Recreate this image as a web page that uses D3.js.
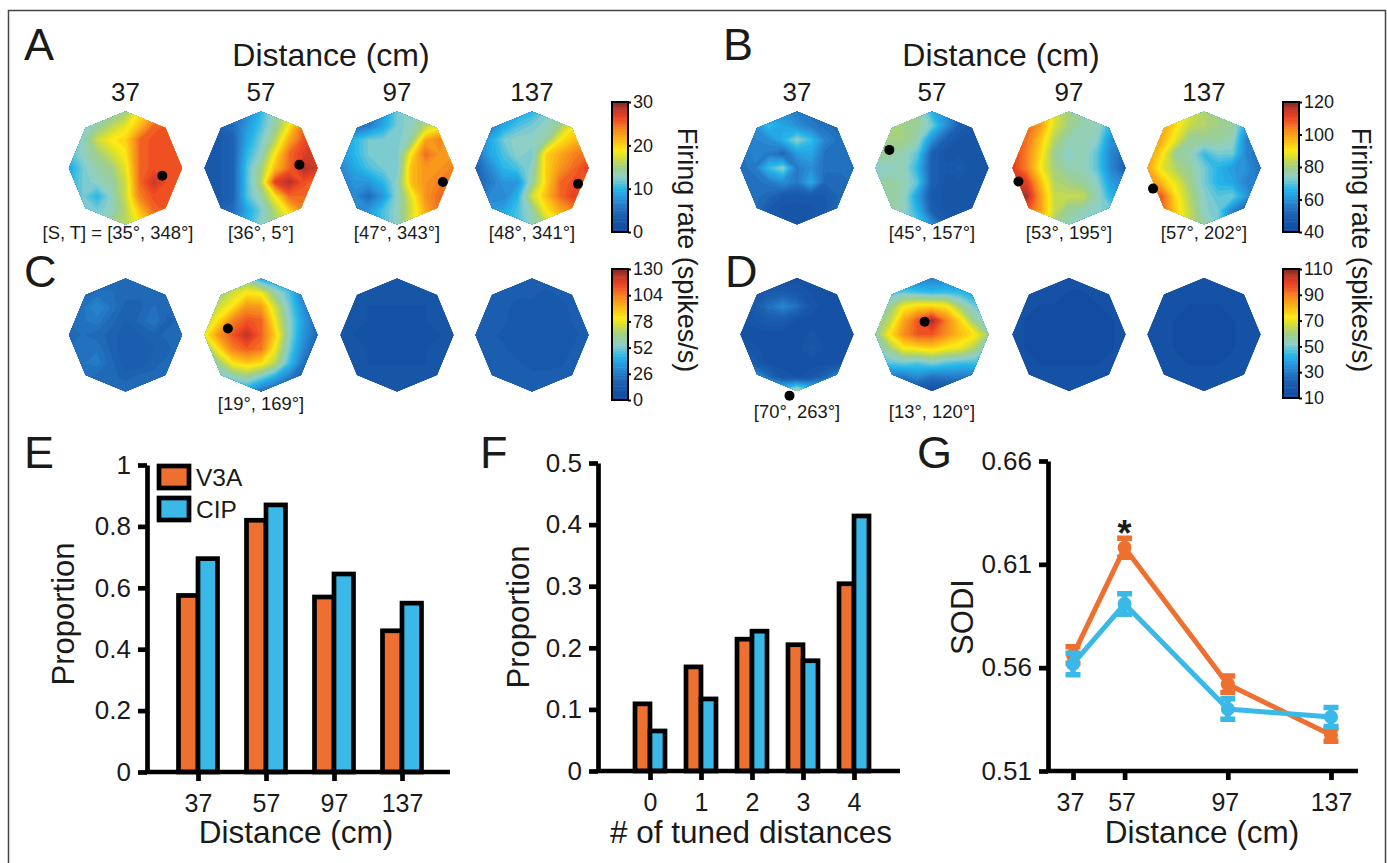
<!DOCTYPE html>
<html>
<head>
<meta charset="utf-8">
<script src="https://cdn.jsdelivr.net/npm/d3@7"></script>
<style>
  html, body { margin: 0; padding: 0; background: #fff; }
  svg { display: block; }
  text { font-family: "Liberation Sans", Arial, sans-serif; fill: #1a1a1a; }
  .axis path, .axis line { stroke: #000; }
</style>
</head>
<body>
<svg id="chart" width="1387" height="863"></svg>
<script>
// tuning maps, firing rate on a 9x9 grid, rows top to bottom
const mapA37 = [
  [13,13,13,14,15,19,22,25,26],[13,13,14,16,18,21,25,26,26],[12,13,17,19,20,25,26,26,26],
  [11,13,15,17,19,25,26,26,26],[9,12,14,15,18,25,26,26,26],[10,12,13,14,17,25,28,26,26],
  [10,12,10,13,17,24,26,26,26],[11,12,12,13,16,21,25,26,25],[12,13,14,15,16,19,22,25,25]];
const mapA57 = [
  [4,4,5,7,10,14,17,21,24],[4,4,5,8,11,14,19,25,28],[3,3,4,9,12,16,22,26,28],
  [3,3,4,10,13,19,25,27,29],[3,3,4,11,15,21,25,29,28],[3,3,4,11,16,27,29,26,25],
  [3,3,4,11,14,19,25,25,25],[4,4,5,9,12,16,20,24,25],[5,5,7,10,13,15,18,21,24]];
const mapA97 = [
  [6,6,6,8,12,13,14,15,16],[5,5,6,9,12,13,16,18,18],[8,10,12,12,12,14,22,24,22],
  [8,10,12,12,12,19,25,23,23],[7,9,11,12,12,21,23,23,24],[6,8,8,10,13,21,23,24,25],
  [6,7,5,8,13,18,23,25,26],[7,7,8,11,13,17,22,25,26],[8,8,9,11,13,18,21,24,25]];
const mapA137 = [
  [8,8,8,9,10,12,14,16,17],[6,6,9,11,12,13,15,19,19],[6,9,12,13,13,14,19,21,22],
  [5,9,11,13,12,20,22,24,25],[4,7,10,11,13,20,23,25,27],[4,6,8,8,14,20,25,26,26],
  [5,7,7,10,17,21,25,27,26],[7,8,9,11,14,19,22,24,25],[8,9,10,11,13,16,19,22,24]];

const mapB37 = [
  [54,54,58,60,56,54,53,52,52],[60,60,68,64,60,56,54,52,52],[56,58,60,66,74,68,58,54,54],
  [54,58,56,52,62,64,54,54,54],[54,56,68,74,56,60,54,54,54],[54,54,56,60,56,65,52,52,54],
  [54,54,52,48,47,48,48,52,54],[60,54,48,46,46,46,48,54,62],[62,58,52,48,46,48,52,58,62]];
const mapB57 = [
  [80,80,80,80,66,60,52,48,48],[80,80,80,78,72,60,50,47,47],[80,80,80,76,60,50,46,46,46],
  [80,78,76,70,50,46,46,46,46],[74,74,76,66,50,47,49,46,46],[76,78,76,70,50,46,46,46,46],
  [80,78,76,62,48,46,46,46,46],[80,78,75,66,50,46,46,46,46],[78,76,74,70,60,50,46,46,46]];
const mapB97 = [
  [100,100,100,88,80,78,76,72,68],[108,108,100,86,80,76,76,66,60],[110,106,95,82,76,76,74,60,56],
  [112,104,92,78,74,76,70,58,52],[112,104,90,80,76,76,70,58,50],[112,112,96,82,80,78,74,62,58],
  [116,118,100,84,84,84,76,66,62],[110,110,100,84,78,76,74,72,70],[100,100,96,80,76,74,74,74,74]];
const mapB137 = [
  [96,96,94,88,82,80,78,76,72],[102,100,92,84,82,80,78,64,60],[102,98,88,78,78,78,76,58,56],
  [102,92,78,76,68,72,72,58,54],[100,88,82,78,72,66,62,60,54],[104,96,88,80,72,66,64,58,56],
  [110,108,92,82,74,70,72,62,52],[110,108,94,84,74,72,58,50,48],[108,104,94,84,78,72,60,56,60]];

const mapC37 = [
  [20,20,20,20,22,20,20,20,20],[20,20,22,22,20,20,20,20,20],[22,24,30,24,18,18,22,20,20],
  [22,24,26,20,16,20,24,18,20],[20,22,20,18,14,16,18,20,22],[22,22,24,18,14,14,16,18,22],
  [22,24,26,20,14,14,18,20,22],[22,24,20,20,18,20,20,22,22],[24,24,22,22,22,22,22,22,22]];
const mapC57 = [
  [50,55,60,60,40,38,30,20,14],[50,62,74,82,80,60,48,26,16],[62,74,84,100,98,74,52,32,18],
  [70,85,104,112,110,80,56,36,20],[80,100,112,124,110,88,56,34,20],[60,84,104,110,106,80,52,30,16],
  [50,64,82,88,84,70,46,24,14],[44,52,56,62,52,40,26,16,13],[40,40,40,36,24,16,14,14,14]];
const mapC97 = [
  [9,9,9,9,10,9,9,9,9],[9,9,9,9,9,9,9,9,9],[9,9,8,8,8,8,8,9,9],
  [9,9,8,8,7,7,8,9,9],[9,8,8,7,7,7,8,8,9],[9,9,8,7,7,7,8,9,9],
  [9,9,8,8,8,8,8,9,9],[9,9,9,9,9,9,9,9,9],[10,10,10,10,10,10,10,10,10]];
const mapC137 = [
  [15,15,15,15,15,15,15,15,15],[15,15,15,14,14,13,14,15,15],[15,15,14,13,13,12,13,14,15],
  [15,14,14,12,11,11,12,14,15],[15,14,13,12,11,11,12,13,15],[15,15,14,12,11,11,12,14,15],
  [15,15,15,14,12,12,13,15,15],[15,15,15,15,15,15,15,15,15],[15,15,15,15,15,15,15,15,15]];

const mapD37 = [
  [15,15,15,15,15,15,15,15,15],[17,17,20,21,19,16,15,15,15],[15,20,28,33,28,18,15,15,15],
  [15,18,21,21,16,15,15,15,15],[15,15,15,15,15,17,15,15,15],[20,17,15,15,15,19,16,15,16],
  [27,20,15,15,15,15,15,15,23],[45,38,27,18,16,18,25,38,45],[62,60,50,50,62,50,48,50,60]];
const mapD57 = [
  [30,30,30,30,32,32,30,28,28],[48,48,48,46,44,45,44,40,40],[52,58,72,76,76,74,60,50,46],
  [58,64,84,96,108,90,76,58,52],[56,74,88,96,96,88,80,74,60],[52,60,72,74,76,72,70,62,50],
  [44,48,50,48,52,48,46,46,44],[28,30,30,34,28,30,30,30,28],[15,15,15,15,15,15,15,15,15]];
const mapD97 = [
  [15,15,15,15,15,15,15,15,15],[15,15,15,15,14,14,15,15,15],[15,15,14,14,14,14,14,15,15],
  [15,14,14,14,13,13,14,14,15],[15,14,14,13,13,13,14,14,15],[15,14,14,14,13,14,14,14,15],
  [15,15,14,14,14,14,14,15,15],[15,15,15,15,15,15,15,15,15],[15,15,15,15,15,15,15,15,15]];
const mapD137 = [
  [15,15,15,15,15,15,15,15,15],[15,15,15,15,15,15,15,15,15],[15,15,15,14,14,14,15,15,15],
  [15,15,14,14,14,14,14,15,15],[15,15,14,14,13,14,14,15,15],[15,15,14,14,14,14,14,15,15],
  [15,15,15,14,14,14,15,15,15],[15,15,15,15,15,15,15,15,15],[15,15,15,15,15,15,15,15,15]];

// preferred [slant, tilt] of each map that has one
const prefsA = [[35,348],[36,5],[47,343],[48,341]];
const prefsB = [null,[45,157],[53,195],[57,202]];
const prefsC = [null,[19,169],null,null];
const prefsD = [[70,263],[13,120],null,null];

const mapDistances = ["37","57","97","137"];

// colorbar ticks
const barTicksA = [0,10,20,30];
const barTicksB = [40,60,80,100,120];
const barTicksC = [0,26,52,78,104,130];
const barTicksD = [10,30,50,70,90,110];

// panel E
const distances = ["37","57","97","137"];
const propV3A = [0.575,0.82,0.57,0.46];
const propCIP = [0.695,0.87,0.645,0.55];
const propTicks = [0,0.2,0.4,0.6,0.8,1];

// panel F
const tunedCounts = ["0","1","2","3","4"];
const tunedV3A = [0.109,0.169,0.214,0.205,0.304];
const tunedCIP = [0.065,0.117,0.227,0.179,0.414];
const tunedTicks = [0,0.1,0.2,0.3,0.4,0.5];

// panel G
const sodiDistances = [37,57,97,137];
const sodiV3A = [0.5661,0.618,0.552,0.5274];
const sodiCIP = [0.5618,0.5908,0.540,0.5361];
const sodiErrV3A = [0.004,0.0046,0.004,0.003];
const sodiErrCIP = [0.0052,0.005,0.005,0.0046];
const sodiTicks = [0.51,0.56,0.61,0.66];

const orange = "#ee7030";
const blue = "#3ab9e9";

const svg = d3.select("#chart");

// frame of the figure
svg.append("path")
  .attr("d", "M8.5,863V10.5H1385.5V863")
  .attr("fill", "none")
  .attr("stroke", "#444")
  .attr("stroke-width", 1.5);

// panel letters
[["A",24,60],["B",723,60],["C",24,287],["D",725,287],["E",24,468],["F",480,468],["G",917,468]].forEach(d => {
  svg.append("text").attr("x", d[1]).attr("y", d[2]).attr("font-size", 45).text(d[0]);
});

// shared colormap, t runs from 0 to 1 along the colorbar
const colorT = d3.scaleLinear()
  .domain([0,0.14,0.25,0.33,0.42,0.5,0.58,0.63,0.72,0.8,0.88,0.94,1])
  .range(["#10479c","#1d62b2","#2a8fd6","#22b5ea","#8ccfcb","#a0cf88","#d8df30","#fdea14","#fbb116","#f58220","#ee4423","#c8392a","#7d2a20"]);

const R = 56.5;
const nBands = 48;
const octagon = d3.range(8).map(i => [R * Math.cos(i * Math.PI / 4), R * Math.sin(i * Math.PI / 4)]);
svg.append("defs").append("clipPath").attr("id", "octagon")
  .append("polygon").attr("points", octagon.join(" "));

function drawMap(cx, cy, values, lo, hi, pref, dotSlant) {
  const g = svg.append("g").attr("transform", `translate(${cx},${cy})`);
  const color = v => colorT((v - lo) / (hi - lo));
  const bands = g.append("g").attr("clip-path", "url(#octagon)");
  bands.append("polygon").attr("points", octagon.join(" ")).attr("fill", color(lo));

  const k = R / 4;
  const thresholds = d3.range(nBands).map(i => lo + (hi - lo) * i / nBands);
  const contours = d3.contours().size([9, 9]).thresholds(thresholds)(values.flat());
  bands.append("g")
    .attr("transform", `translate(${-4.5 * k},${-4.5 * k}) scale(${k})`)
    .selectAll("path")
    .data(contours)
    .join("path")
    .attr("d", d3.geoPath())
    .attr("fill", d => color(d.value + (hi - lo) / nBands / 2));

  if (pref) {
    const r = 1.16 * Math.sin((dotSlant || pref[0]) * Math.PI / 180) * R;
    const a = pref[1] * Math.PI / 180;
    g.append("circle")
      .attr("cx", r * Math.cos(a))
      .attr("cy", -r * Math.sin(a))
      .attr("r", 5)
      .attr("fill", "#000");
  }
}

function mapLabel(x, y, str) {
  svg.append("text").attr("x", x).attr("y", y)
    .attr("text-anchor", "middle").attr("font-size", 18.4).attr("fill", "#333")
    .text(str);
}

function prefLabel(p) { return `[${p[0]}°, ${p[1]}°]`; }

function drawBar(x, y0, y1, lo, hi, ticks) {
  const w = 16;
  const y = d3.scaleLinear().domain([lo, hi]).range([y0, y1]);
  const g = svg.append("g");
  const steps = d3.range(nBands);
  g.selectAll("rect")
    .data(steps)
    .join("rect")
    .attr("x", x)
    .attr("width", w)
    .attr("y", i => y(lo + (hi - lo) * (i + 1) / nBands))
    .attr("height", (y0 - y1) / nBands + 0.5)
    .attr("fill", i => colorT((i + 0.5) / nBands));
  g.append("rect").attr("x", x).attr("y", y1).attr("width", w).attr("height", y0 - y1)
    .attr("fill", "none").attr("stroke", "#000").attr("stroke-width", 2);

  const axis = svg.append("g").attr("class", "axis")
    .attr("transform", `translate(${x + w},0)`)
    .call(d3.axisRight(y).tickValues(ticks).tickSize(3).tickPadding(2));
  axis.select(".domain").remove();
  axis.selectAll("line").attr("stroke-width", 2);
  axis.selectAll("text").attr("font-size", 18).attr("font-family", "Liberation Sans");
}

function sideTitle(x, y, str) {
  svg.append("text")
    .attr("transform", `translate(${x},${y}) rotate(90)`)
    .attr("text-anchor", "middle")
    .attr("font-size", 27)
    .text(str);
}

// panel A
const colsLeft = [125.5, 261, 397, 532];
[mapA37, mapA57, mapA97, mapA137].forEach((m, i) => {
  drawMap(colsLeft[i], 168, m, 0, 30, prefsA[i]);
  svg.append("text").attr("x", colsLeft[i]).attr("y", 101).attr("text-anchor", "middle")
    .attr("font-size", 26).text(mapDistances[i]);
  if (i > 0) mapLabel(colsLeft[i], 239, prefLabel(prefsA[i]));
});
mapLabel(118, 239, "[S, T] = " + prefLabel(prefsA[0]));
svg.append("text").attr("x", 331).attr("y", 66).attr("text-anchor", "middle")
  .attr("font-size", 32).text("Distance (cm)");
drawBar(612, 232, 102, 0, 30, barTicksA);

// panel B
const colsRight = [797, 932, 1069, 1204];
[mapB37, mapB57, mapB97, mapB137].forEach((m, i) => {
  drawMap(colsRight[i], 168, m, 40, 120, prefsB[i]);
  svg.append("text").attr("x", colsRight[i]).attr("y", 101).attr("text-anchor", "middle")
    .attr("font-size", 26).text(mapDistances[i]);
  if (prefsB[i]) mapLabel(colsRight[i], 239, prefLabel(prefsB[i]));
});
svg.append("text").attr("x", 1001).attr("y", 66).attr("text-anchor", "middle")
  .attr("font-size", 32).text("Distance (cm)");
drawBar(1283, 232, 102, 40, 120, barTicksB);

// panel C, the dot of the second map sits further out than its label says
[mapC37, mapC57, mapC97, mapC137].forEach((m, i) => {
  drawMap(colsLeft[i], 335, m, 0, 130, prefsC[i], i === 1 ? 31 : null);
  if (prefsC[i]) mapLabel(colsLeft[i], 410, prefLabel(prefsC[i]));
});
drawBar(612, 400, 269, 0, 130, barTicksC);

// panel D
[mapD37, mapD57, mapD97, mapD137].forEach((m, i) => {
  drawMap(colsRight[i], 334.5, m, 10, 110, prefsD[i]);
  if (prefsD[i]) mapLabel(colsRight[i], 418, prefLabel(prefsD[i]));
});
drawBar(1283, 398, 269, 10, 110, barTicksD);

sideTitle(678, 250, "Firing rate (spikes/s)");
sideTitle(1352, 250, "Firing rate (spikes/s)");

// common axis styling for E, F, G
function styleAxis(g, fontSize) {
  g.attr("class", "axis");
  g.selectAll(".domain").attr("stroke-width", 4.7);
  g.selectAll("line").attr("stroke-width", 4.7);
  g.selectAll("text").attr("font-size", fontSize).attr("font-family", "Liberation Sans");
}

function drawAxes(x0, xEnd, y, yTicks, yFormat) {
  const g = svg.append("g")
    .attr("transform", `translate(${x0},0)`)
    .call(d3.axisLeft(y).tickValues(yTicks).tickSize(9).tickSizeOuter(0).tickPadding(7).tickFormat(yFormat));
  styleAxis(g, 26);
  svg.append("line")
    .attr("x1", x0).attr("x2", xEnd)
    .attr("y1", y.range()[0]).attr("y2", y.range()[0])
    .attr("stroke", "#000").attr("stroke-width", 4.7);
}

function xTitle(x, str) {
  svg.append("text").attr("x", x).attr("y", 843).attr("text-anchor", "middle")
    .attr("font-size", 31.5).text(str);
}

function yTitle(x, y, str) {
  svg.append("text")
    .attr("transform", `translate(${x},${y}) rotate(-90)`)
    .attr("text-anchor", "middle")
    .attr("font-size", 31)
    .text(str);
}

function drawBars(x, y, cats, serA, serB, bw) {
  const rows = cats.flatMap((c, i) => [
    { c: c, v: serA[i], fill: orange, off: -bw },
    { c: c, v: serB[i], fill: blue, off: 0 }
  ]);
  svg.append("g").selectAll("rect")
    .data(rows)
    .join("rect")
    .attr("x", d => x(d.c) + d.off)
    .attr("y", d => y(d.v))
    .attr("width", bw)
    .attr("height", d => y(0) - y(d.v))
    .attr("fill", d => d.fill)
    .attr("stroke", "#000")
    .attr("stroke-width", 4.7);
}

function xTicks(x, y0, cats) {
  const g = svg.append("g")
    .attr("transform", `translate(0,${y0})`)
    .call(d3.axisBottom(x).tickValues(cats).tickSize(9).tickSizeOuter(0).tickPadding(13));
  styleAxis(g, 25);
  g.select(".domain").remove();
}

// panel E
const xE = d3.scalePoint().domain(distances).range([198, 402]);
const yE = d3.scaleLinear().domain([0, 1]).range([772, 465]);
drawBars(xE, yE, distances, propV3A, propCIP, 19.5);
drawAxes(147, 450, yE, propTicks, d => d);
xTicks(xE, 772, distances);
yTitle(74, 614, "Proportion");
xTitle(296, "Distance (cm)");

// legend
[["V3A", orange, 466], ["CIP", blue, 498]].forEach(d => {
  svg.append("rect").attr("x", 159).attr("y", d[2]).attr("width", 30).attr("height", 22)
    .attr("fill", d[1]).attr("stroke", "#000").attr("stroke-width", 4.7);
  svg.append("text").attr("x", 196).attr("y", d[2] + 20).attr("font-size", 24.5).attr("fill", "#333").text(d[0]);
});

// panel F
const xF = d3.scalePoint().domain(tunedCounts).range([650, 854]);
const yF = d3.scaleLinear().domain([0, 0.5]).range([771, 463]);
drawBars(xF, yF, tunedCounts, tunedV3A, tunedCIP, 15);
drawAxes(598, 900, yF, tunedTicks, d => d);
xTicks(xF, 771, tunedCounts);
yTitle(529, 617, "Proportion");
xTitle(751, "# of tuned distances");

// panel G
const xG = d3.scaleLinear().domain([37, 137]).range([1073, 1331]);
const yG = d3.scaleLinear().domain([0.51, 0.66]).range([771, 461]);
drawAxes(1048, 1358, yG, sodiTicks, d3.format(".2f"));
const gTicks = svg.append("g")
  .attr("transform", "translate(0,771)")
  .call(d3.axisBottom(xG).tickValues(sodiDistances).tickFormat(d3.format("d")).tickSize(9).tickSizeOuter(0).tickPadding(13));
styleAxis(gTicks, 25);
gTicks.select(".domain").remove();
gTicks.selectAll("text").attr("dx", d => d === 137 ? 0 : -3);

[[sodiV3A, sodiErrV3A, orange], [sodiCIP, sodiErrCIP, blue]].forEach(s => {
  const g = svg.append("g");
  const pts = sodiDistances.map((d, i) => ({ d: d, v: s[0][i], e: s[1][i] }));
  g.append("path")
    .datum(pts)
    .attr("fill", "none")
    .attr("stroke", s[2])
    .attr("stroke-width", 5)
    .attr("d", d3.line().x(p => xG(p.d)).y(p => yG(p.v)));
  g.selectAll(".err")
    .data(pts)
    .join("path")
    .attr("class", "err")
    .attr("fill", "none")
    .attr("stroke", s[2])
    .attr("stroke-width", 5.5)
    .attr("d", p => {
      const top = yG(p.v + p.e), bot = yG(p.v - p.e), x = xG(p.d);
      return `M${x - 7.5},${top}H${x + 7.5}M${x},${top}V${bot}M${x - 7.5},${bot}H${x + 7.5}`;
    });
  g.selectAll("circle")
    .data(pts)
    .join("circle")
    .attr("cx", p => xG(p.d))
    .attr("cy", p => yG(p.v))
    .attr("r", 7)
    .attr("fill", s[2]);
});

svg.append("text").attr("x", xG(57)).attr("y", 546).attr("text-anchor", "middle")
  .attr("font-size", 36).attr("font-weight", "bold").text("*");
yTitle(973, 617, "SODI");
xTitle(1202, "Distance (cm)");
</script>
</body>
</html>
